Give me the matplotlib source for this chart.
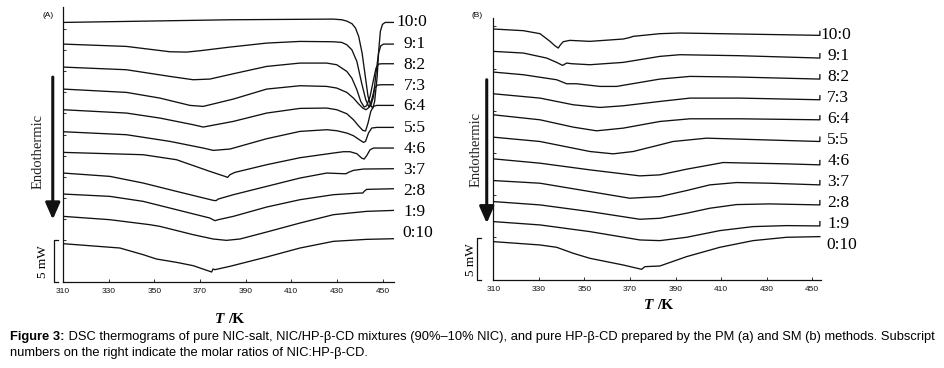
import matplotlib
matplotlib.use("Agg")
import matplotlib.pyplot as plt
from matplotlib.transforms import blended_transform_factory

RATIOS = ["10:0", "9:1", "8:2", "7:3", "6:4", "5:5", "4:6", "3:7", "2:8", "1:9", "0:10"]
T_TICKS = [310, 330, 350, 370, 390, 410, 430, 450]

# (A) physical mixtures -- temperature in K, heat flow in mW (curves stacked with offsets)
A_T_10_0 = [310.0, 337.8, 383.1, 428.4, 432.1, 434.3, 436.6, 438.1, 439.5, 441.0, 442.5, 443.6, 444.8,
            445.7, 446.5, 447.6, 448.3, 449.0, 449.9, 451.1, 455.5]
A_Q_10_0 = [31.16, 31.28, 31.48, 31.56, 31.48, 31.32, 31.0, 30.48, 29.48, 27.48, 24.48, 22.28, 21.16,
            20.88, 21.68, 24.68, 27.88, 30.08, 30.92, 31.16, 31.16]
A_T_9_1 = [310.0, 337.8, 356.8, 364.1, 369.9, 383.1, 399.2, 413.8, 428.4, 432.1, 434.3, 436.5, 438.7,
           440.8, 442.6, 443.9, 444.8, 446.0, 447.1, 448.2, 449.2, 450.4, 455.5]
A_Q_9_1 = [28.56, 28.28, 27.64, 27.6, 27.76, 28.2, 28.68, 28.88, 28.84, 28.76, 28.48, 27.88, 26.48,
           23.88, 21.88, 21.08, 21.16, 22.28, 25.08, 27.48, 28.36, 28.56, 28.56]
A_T_8_2 = [310.0, 337.8, 356.8, 367.0, 374.3, 384.6, 399.2, 413.8, 425.5, 429.9, 434.3, 436.5, 438.7,
           440.4, 441.9, 443.0, 444.5, 446.0, 447.1, 448.2, 449.6, 455.5]
A_Q_8_2 = [25.8, 25.48, 24.68, 24.28, 24.36, 25.0, 25.88, 26.28, 26.28, 26.08, 25.28, 24.48, 23.08,
           21.68, 21.0, 21.16, 22.28, 24.28, 25.68, 26.16, 26.2, 26.2]
A_T_7_3 = [310.0, 337.8, 352.4, 365.6, 371.4, 384.6, 399.2, 413.8, 425.5, 429.9, 434.3, 437.2, 439.4,
           441.3, 442.7, 444.2, 445.4, 446.5, 447.7, 449.6, 455.5]
A_Q_7_3 = [23.16, 22.76, 22.08, 21.2, 21.08, 21.96, 23.16, 23.56, 23.48, 23.28, 22.76, 22.08, 21.4,
           20.88, 20.68, 21.0, 22.08, 23.28, 23.64, 23.68, 23.68]
A_T_6_4 = [310.0, 337.8, 352.4, 367.0, 371.4, 384.6, 399.2, 413.8, 425.5, 429.9, 434.3, 437.2, 439.4,
           441.3, 442.5, 443.6, 444.8, 446.0, 447.4, 455.5]
A_Q_6_4 = [20.68, 20.28, 19.68, 18.88, 18.6, 19.28, 20.28, 20.84, 20.88, 20.68, 20.2, 19.48, 18.76,
           18.2, 18.12, 19.08, 20.48, 21.08, 21.2, 21.2]
A_T_5_5 = [310.0, 337.8, 356.8, 371.4, 375.8, 383.1, 399.2, 413.8, 425.5, 429.9, 434.3, 437.2, 439.8,
           441.6, 442.5, 443.8, 445.2, 447.4, 455.5]
A_Q_5_5 = [18.04, 17.68, 16.88, 16.08, 15.8, 15.96, 17.2, 18.08, 18.28, 18.16, 17.88, 17.56, 17.08,
           16.76, 16.88, 17.88, 18.48, 18.56, 18.56]
A_T_4_6 = [310.0, 345.1, 359.7, 374.3, 380.9, 382.1, 383.1, 385.3, 399.2, 413.8, 428.4, 432.8, 435.7,
           438.7, 440.8, 441.9, 443.0, 444.5, 446.0, 455.5]
A_Q_4_6 = [15.56, 15.28, 14.68, 13.28, 12.68, 12.56, 12.88, 13.16, 14.08, 14.92, 15.48, 15.64, 15.64,
           15.4, 14.88, 14.76, 15.16, 15.88, 16.08, 16.08]
A_T_3_7 = [310.0, 330.5, 345.1, 359.7, 375.8, 377.0, 378.0, 384.6, 399.2, 413.8, 425.5, 432.8, 434.0,
           435.0, 437.2, 441.6, 455.5]
A_Q_3_7 = [13.08, 12.68, 11.88, 10.88, 9.8, 9.76, 9.96, 10.48, 11.48, 12.48, 13.08, 13.0, 13.0,
           13.16, 13.4, 13.56, 13.6]
A_T_2_8 = [310.0, 330.5, 345.1, 359.7, 374.3, 376.5, 378.0, 384.6, 399.2, 413.8, 428.4, 440.1, 441.3,
           441.9, 443.0, 455.5]
A_Q_2_8 = [10.56, 10.28, 9.68, 8.68, 7.68, 7.36, 7.48, 7.88, 9.0, 9.88, 10.48, 10.68, 10.68,
           10.88, 11.12, 11.2]
A_T_1_9 = [310.0, 330.5, 348.0, 352.4, 367.0, 375.8, 381.6, 387.5, 399.2, 413.8, 428.4, 443.0, 455.5]
A_Q_1_9 = [7.88, 7.48, 6.88, 6.68, 5.68, 5.16, 5.0, 5.16, 6.0, 7.08, 8.08, 8.48, 8.6]
A_T_0_10 = [310.0, 334.9, 345.1, 350.9, 359.7, 367.0, 375.1, 375.7, 376.5, 383.1, 399.2, 413.8, 428.4,
            443.0, 455.5]
A_Q_0_10 = [4.6, 4.08, 3.28, 2.76, 2.36, 1.96, 1.2, 1.56, 1.48, 1.88, 3.0, 4.08, 4.88, 5.12, 5.2]

# (B) solvent method
B_T_10_0 = [310.0, 323.2, 330.5, 334.9, 337.0, 338.5, 339.5, 340.7, 343.6, 352.4, 367.0, 369.6, 371.4,
            383.1, 391.9, 418.2, 453.3, 453.3]
B_Q_10_0 = [30.08, 29.88, 29.52, 28.6, 28.08, 27.8, 28.2, 28.56, 28.72, 28.6, 28.88, 29.04, 29.2,
            29.52, 29.6, 29.48, 29.32, 29.8]
B_T_9_1 = [310.0, 323.2, 333.4, 337.8, 340.4, 342.2, 344.4, 352.4, 367.0, 383.1, 391.9, 418.2, 453.3, 453.3]
B_Q_9_1 = [27.4, 27.2, 26.6, 26.08, 25.72, 26.0, 25.92, 25.8, 26.08, 26.8, 27.0, 26.88, 26.6, 27.12]
B_T_8_2 = [310.0, 323.2, 337.8, 342.2, 346.5, 356.8, 364.1, 383.1, 396.3, 418.2, 453.3, 453.3]
B_Q_8_2 = [24.92, 24.6, 24.0, 23.52, 23.52, 23.2, 23.2, 24.08, 24.4, 24.32, 24.08, 24.6]
B_T_7_3 = [310.0, 330.5, 345.1, 356.8, 367.0, 383.1, 396.3, 418.2, 453.3, 453.3]
B_Q_7_3 = [22.32, 21.8, 21.0, 20.68, 20.88, 21.4, 21.8, 21.8, 21.6, 22.08]
B_T_6_4 = [310.0, 330.5, 345.1, 355.3, 367.0, 383.1, 396.3, 418.2, 453.3, 453.3]
B_Q_6_4 = [19.8, 19.2, 18.32, 17.88, 18.2, 19.0, 19.32, 19.32, 19.2, 19.68]
B_T_5_5 = [310.0, 330.5, 345.1, 352.4, 362.6, 371.4, 383.1, 388.9, 403.6, 418.2, 453.3, 453.3]
B_Q_5_5 = [17.12, 16.6, 15.8, 15.4, 15.12, 15.4, 16.2, 16.6, 17.0, 16.88, 16.6, 17.12]
B_T_4_6 = [310.0, 330.5, 352.4, 374.3, 383.1, 394.8, 410.9, 424.0, 438.7, 453.3, 453.3]
B_Q_4_6 = [14.52, 14.0, 13.2, 12.48, 12.6, 13.28, 14.08, 14.0, 13.92, 13.8, 14.32]
B_T_3_7 = [310.0, 330.5, 352.4, 369.9, 383.1, 394.8, 405.0, 416.7, 431.3, 453.3, 453.3]
B_Q_3_7 = [11.92, 11.6, 10.6, 9.8, 10.0, 10.72, 11.4, 11.68, 11.6, 11.4, 11.92]
B_T_2_8 = [310.0, 330.5, 352.4, 374.3, 383.1, 394.8, 405.0, 416.7, 431.3, 453.3, 453.3]
B_Q_2_8 = [9.4, 9.0, 8.2, 7.28, 7.4, 8.0, 8.6, 9.04, 9.12, 9.0, 9.52]
B_T_1_9 = [310.0, 330.5, 352.4, 374.3, 383.1, 394.8, 409.4, 424.0, 438.7, 453.3, 453.3]
B_Q_1_9 = [7.0, 6.6, 5.8, 4.8, 4.72, 5.12, 5.92, 6.4, 6.52, 6.48, 7.0]
B_T_0_10 = [310.0, 330.5, 337.8, 345.1, 352.4, 367.0, 375.1, 376.5, 383.1, 394.8, 409.4, 424.0, 438.7, 453.3]
B_Q_0_10 = [4.6, 4.2, 3.92, 3.2, 2.6, 1.8, 1.28, 1.6, 1.68, 2.8, 3.92, 4.72, 5.12, 5.2]

A_LABEL_Q = [31.16, 28.56, 26.08, 23.56, 21.08, 18.48, 15.96, 13.48, 10.88, 8.4, 5.88]
B_LABEL_Q = [29.4, 26.8, 24.32, 21.8, 19.32, 16.8, 14.24, 11.72, 9.2, 6.72, 4.2]

A_CURVES = [(A_T_10_0, A_Q_10_0), (A_T_9_1, A_Q_9_1), (A_T_8_2, A_Q_8_2), (A_T_7_3, A_Q_7_3),
            (A_T_6_4, A_Q_6_4), (A_T_5_5, A_Q_5_5), (A_T_4_6, A_Q_4_6), (A_T_3_7, A_Q_3_7),
            (A_T_2_8, A_Q_2_8), (A_T_1_9, A_Q_1_9), (A_T_0_10, A_Q_0_10)]
B_CURVES = [(B_T_10_0, B_Q_10_0), (B_T_9_1, B_Q_9_1), (B_T_8_2, B_Q_8_2), (B_T_7_3, B_Q_7_3),
            (B_T_6_4, B_Q_6_4), (B_T_5_5, B_Q_5_5), (B_T_4_6, B_Q_4_6), (B_T_3_7, B_Q_3_7),
            (B_T_2_8, B_Q_2_8), (B_T_1_9, B_Q_1_9), (B_T_0_10, B_Q_0_10)]

SANS = ["Liberation Sans", "DejaVu Sans"]
SERIF = ["Liberation Serif", "DejaVu Serif"]
INK = "#111111"


def draw_panel(ax, curves, label_q, label_x, tag, xlim, ylim, yticks, deco):
    for t, q in curves:
        ax.plot(t, q, color=INK, lw=0.95, solid_joinstyle="round")
    ax.set_xlim(*xlim)
    ax.set_ylim(*ylim)
    ax.set_xticks(T_TICKS)
    ax.set_xticklabels([str(v) for v in T_TICKS], family=SANS, fontsize=6)
    ax.set_yticks(yticks)
    ax.set_yticklabels([])
    ax.tick_params(direction="in", length=2.5, width=0.6, pad=4, colors=INK)
    for side in ("top", "right"):
        ax.spines[side].set_visible(False)
    for side in ("left", "bottom"):
        ax.spines[side].set_linewidth(0.9)
        ax.spines[side].set_color(INK)

    tr = blended_transform_factory(ax.transAxes, ax.transData)
    for name, q, x in zip(RATIOS, label_q, label_x):
        ax.text(x, q, name, transform=tr, family=SERIF, fontsize=12.5, va="center", ha="left",
                clip_on=False)

    bx, bt, ex, eq, ax_x, a0, a1, tx, tq, tag_x, tag_q = deco
    # 5 mW scale bracket
    ax.plot([bt, bx, bx, bt], [5.0, 5.0, 0.0, 0.0], transform=tr, color=INK, lw=0.9, clip_on=False)
    ax.text(tx, tq, "5 mW", transform=tr, rotation=90, family=SERIF, fontsize=9.5,
            ha="center", va="center", clip_on=False)
    ax.text(ex, eq, "Endothermic", transform=tr, rotation=90, family=SERIF, fontsize=10.5,
            ha="center", va="center", color="#222222", clip_on=False)
    ax.annotate("", xy=(ax_x, a1), xytext=(ax_x, a0), xycoords=tr, textcoords=tr,
                arrowprops=dict(arrowstyle="-|>,head_length=0.5,head_width=0.22", lw=2.2,
                                color=INK, mutation_scale=20, shrinkA=0, shrinkB=0),
                annotation_clip=False)
    ax.text(tag_x, tag_q, tag, transform=tr, family=SANS, fontsize=6, ha="center", va="center",
            clip_on=False)


fig = plt.figure(figsize=(9.45, 3.68), dpi=100)
ax_a = fig.add_axes([0.0667, 0.2337, 0.3503, 0.747])
ax_b = fig.add_axes([0.5220, 0.2391, 0.3468, 0.712])

draw_panel(ax_a, A_CURVES, A_LABEL_Q,
           [1.008, 1.029, 1.029, 1.029, 1.029, 1.029, 1.029, 1.029, 1.029, 1.029, 1.025],
           "(A)", (310, 455), (0, 33.0), [5.0 + 2.54 * k for k in range(11)],
           (-0.028, -0.016, -0.076, 15.64, -0.031, 24.6, 7.5, -0.062, 2.44, -0.046, 31.96))
draw_panel(ax_b, B_CURVES, B_LABEL_Q,
           [0.999, 1.019, 1.019, 1.019, 1.019, 1.019, 1.019, 1.019, 1.019, 1.019, 1.015],
           "(B)", (310, 453.8), (0, 31.4), [5.1 + 5.06 * k for k in range(6)],
           (-0.049, -0.037, -0.053, 15.7, -0.020, 24.0, 6.8, -0.068, 2.4, -0.05, 31.68))

for ax, yl in ((ax_a, -0.135), (ax_b, -0.098)):
    ax.text(0.5, yl, "T ", transform=ax.transAxes, family=SERIF, fontsize=11, fontweight="bold",
            fontstyle="italic", ha="right", va="center")
    ax.text(0.5, yl, "/K", transform=ax.transAxes, family=SERIF, fontsize=11, fontweight="bold",
            ha="left", va="center")

cap_bold = fig.text(0.0106, 1 - 340 / 368, "Figure 3:", family=SANS, fontsize=9.3, fontweight="bold",
                    va="baseline", ha="left")
ax_a.annotate(" DSC thermograms of pure NIC-salt, NIC/HP-\u03b2-CD mixtures (90%\u201310% NIC), and pure "
              "HP-\u03b2-CD prepared by the PM (a) and SM (b) methods. Subscript",
              xy=(1, 0), xycoords=cap_bold, va="bottom", ha="left", family=SANS, fontsize=9.3,
              annotation_clip=False)
fig.text(0.0106, 1 - 356 / 368, "numbers on the right indicate the molar ratios of NIC:HP-\u03b2-CD.",
         family=SANS, fontsize=9.3, va="baseline", ha="left")

fig.savefig("out.png", dpi=100, facecolor="white")
